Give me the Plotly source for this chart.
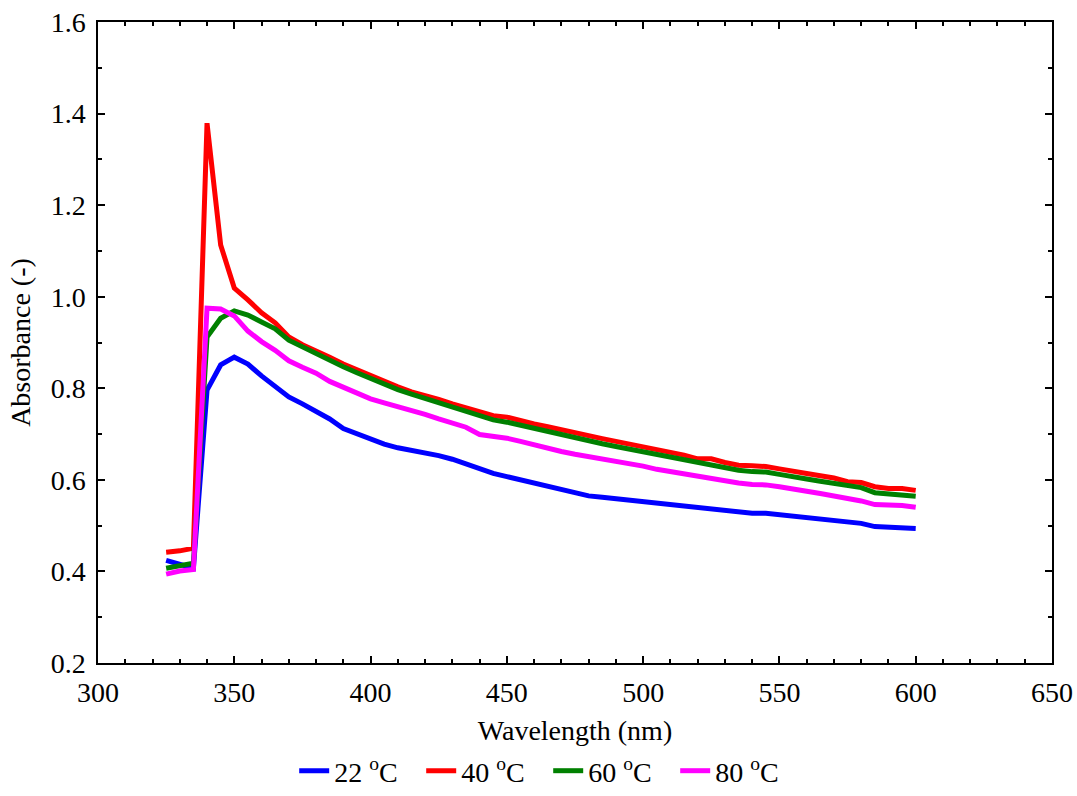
import plotly.graph_objects as go

wavelength = list(range(325, 601, 5))

abs_22 = [0.424, 0.416, 0.407, 0.796, 0.851, 0.868, 0.853, 0.827, 0.804, 0.781,
          0.766, 0.750, 0.733, 0.712, 0.700, 0.689, 0.678, 0.670, 0.664, 0.660,
          0.653, 0.645, 0.635, 0.623, 0.614, 0.607, 0.600, 0.593, 0.586, 0.579,
          0.570, 0.565, 0.562, 0.559, 0.556, 0.553, 0.548, 0.546, 0.543, 0.540,
          0.537, 0.533, 0.530, 0.527, 0.527, 0.524, 0.520, 0.517, 0.514, 0.512,
          0.508, 0.505, 0.498, 0.497, 0.497, 0.494]

abs_40 = [0.442, 0.445, 0.451, 1.379, 1.113, 1.019, 0.993, 0.965, 0.943, 0.912,
          0.895, 0.882, 0.868, 0.853, 0.840, 0.827, 0.815, 0.803, 0.792, 0.785,
          0.776, 0.766, 0.757, 0.747, 0.740, 0.737, 0.729, 0.722, 0.716, 0.709,
          0.703, 0.697, 0.690, 0.684, 0.678, 0.672, 0.667, 0.661, 0.654, 0.646,
          0.646, 0.638, 0.632, 0.631, 0.629, 0.624, 0.618, 0.614, 0.609, 0.604,
          0.596, 0.594, 0.585, 0.581, 0.581, 0.577]

abs_60 = [0.407, 0.412, 0.418, 0.912, 0.953, 0.969, 0.960, 0.945, 0.930, 0.905,
          0.890, 0.876, 0.862, 0.847, 0.834, 0.821, 0.808, 0.797, 0.787, 0.778,
          0.768, 0.758, 0.750, 0.740, 0.731, 0.726, 0.719, 0.712, 0.706, 0.698,
          0.691, 0.686, 0.679, 0.673, 0.667, 0.661, 0.656, 0.650, 0.645, 0.639,
          0.633, 0.627, 0.621, 0.618, 0.617, 0.612, 0.606, 0.602, 0.597, 0.592,
          0.588, 0.583, 0.572, 0.569, 0.568, 0.564]

abs_80 = [0.394, 0.401, 0.404, 0.975, 0.973, 0.958, 0.925, 0.902, 0.883, 0.860,
          0.846, 0.833, 0.815, 0.803, 0.790, 0.777, 0.768, 0.760, 0.751, 0.743,
          0.733, 0.724, 0.715, 0.699, 0.696, 0.691, 0.684, 0.676, 0.669, 0.662,
          0.656, 0.651, 0.646, 0.640, 0.635, 0.630, 0.623, 0.618, 0.613, 0.607,
          0.603, 0.597, 0.593, 0.590, 0.589, 0.585, 0.579, 0.575, 0.570, 0.565,
          0.561, 0.554, 0.546, 0.545, 0.544, 0.540]

series = [
    ("22 <sup>o</sup>C", abs_22, "#0000ff"),
    ("40 <sup>o</sup>C", abs_40, "#ff0000"),
    ("60 <sup>o</sup>C", abs_60, "#008000"),
    ("80 <sup>o</sup>C", abs_80, "#ff00ff"),
]

FONT = "Liberation Serif, Times New Roman, serif"
FS = 28

fig = go.Figure()
for name, vals, color in series:
    fig.add_trace(go.Scatter(
        x=wavelength, y=vals, mode="lines", name=name,
        line=dict(color=color, width=5),
    ))

axis_common = dict(
    showgrid=False, zeroline=False, showline=True, linecolor="black",
    linewidth=1.5, mirror="allticks", ticks="inside", ticklen=7,
    tickwidth=1.5, tickcolor="black", automargin=False,
    ticklabeloverflow="allow",
    tickfont=dict(family=FONT, size=FS, color="black"),
)

fig.update_xaxes(
    range=[300, 650], tickmode="array",
    tickvals=[300, 350, 400, 450, 500, 550, 600, 650],
    ticklabelstandoff=4,
    minor=dict(dtick=10, ticks="inside", ticklen=4, tickwidth=1.5, tickcolor="black"),
    title=dict(text="Wavelength (nm)", font=dict(family=FONT, size=FS, color="black"), standoff=39),
    **axis_common,
)
fig.update_yaxes(
    range=[0.2, 1.6], tickmode="array",
    tickvals=[0.2, 0.4, 0.6, 0.8, 1.0, 1.2, 1.4, 1.6],
    ticktext=["0.2", "0.4", "0.6", "0.8", "1.0", "1.2", "1.4", "1.6"],
    ticklabelstandoff=5,
    minor=dict(dtick=0.1, ticks="inside", ticklen=4, tickwidth=1.5, tickcolor="black"),
    title=dict(text="Absorbance (-)", font=dict(family=FONT, size=FS, color="black"), standoff=12),
    **axis_common,
)

fig.update_layout(
    width=1077, height=796,
    margin=dict(l=98, r=25, t=22, b=133),
    paper_bgcolor="white", plot_bgcolor="white",
    font=dict(family=FONT, color="black"),
    showlegend=True,
    legend=dict(
        orientation="h", xref="container", yref="container",
        x=0.509, xanchor="center", y=-0.03, yanchor="bottom",
        font=dict(family=FONT, size=FS, color="black"),
        entrywidth=82, entrywidthmode="pixels", tracegroupgap=0,
    ),
)

fig.write_html(
    "out.html",
    config={"displayModeBar": False},
    post_script="document.body.style.margin='0';document.body.style.overflow='hidden';",
)
